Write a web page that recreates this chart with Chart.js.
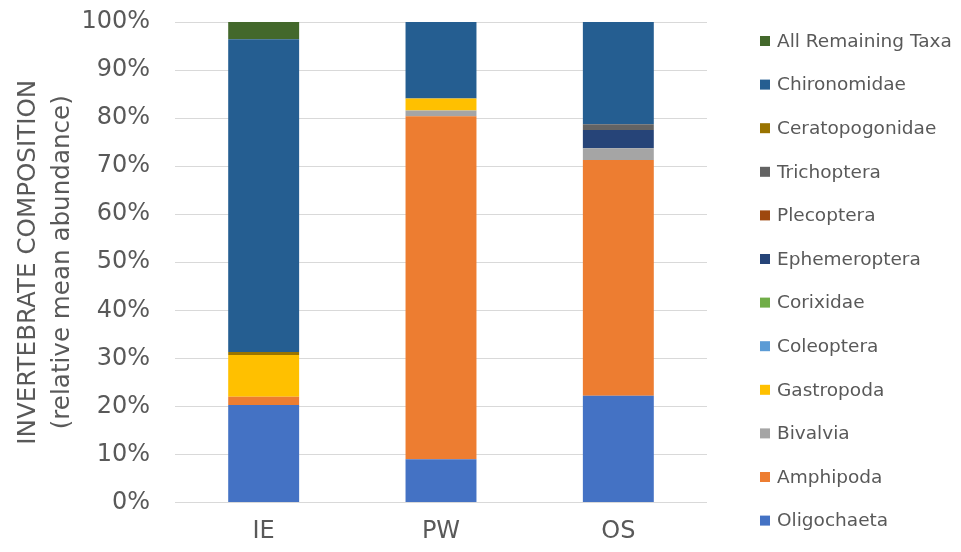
<!DOCTYPE html>
<html>
<head>
<meta charset="utf-8">
<title>Invertebrate composition</title>
<script src="https://cdn.jsdelivr.net/npm/chart.js@4/dist/chart.umd.min.js"></script>
<style>
  html, body { margin: 0; padding: 0; background: #ffffff; }
  #wrap { width: 961px; height: 552px; }
</style>
</head>
<body>
<div id="wrap"><canvas id="chart" width="961" height="552"></canvas></div>
<script>
// Sites
const categories = ['IE', 'PW', 'OS'];

// Relative mean abundance (%) per taxon, one value per site
const oligochaeta     = [20.3,  9.0, 22.2];
const amphipoda       = [ 1.7, 71.4, 49.1];
const bivalvia        = [ 0.0,  1.2,  2.4];
const gastropoda      = [ 8.7,  2.5,  0.0];
const coleoptera      = [ 0.0,  0.0,  0.0];
const corixidae       = [ 0.0,  0.0,  0.0];
const ephemeroptera   = [ 0.0,  0.0,  3.8];
const plecoptera      = [ 0.0,  0.0,  0.0];
const trichoptera     = [ 0.0,  0.0,  1.2];
const ceratopogonidae = [ 0.6,  0.0,  0.0];
const chironomidae    = [65.1, 15.9, 21.3];
const remainingTaxa   = [ 3.6,  0.0,  0.0];

// Axis ticks
const yTicks = [0, 10, 20, 30, 40, 50, 60, 70, 80, 90, 100];

const TEXT = '#595959';
const FONT = "'DejaVu Sans', Verdana, sans-serif";

const series = [
  ['Oligochaeta',        oligochaeta,     '#4472C4'],
  ['Amphipoda',          amphipoda,       '#ED7D31'],
  ['Bivalvia',           bivalvia,        '#A5A5A5'],
  ['Gastropoda',         gastropoda,      '#FFC000'],
  ['Coleoptera',         coleoptera,      '#5B9BD5'],
  ['Corixidae',          corixidae,       '#70AD47'],
  ['Ephemeroptera',      ephemeroptera,   '#264478'],
  ['Plecoptera',         plecoptera,      '#9E480E'],
  ['Trichoptera',        trichoptera,     '#636363'],
  ['Ceratopogonidae',    ceratopogonidae, '#997300'],
  ['Chironomidae',       chironomidae,    '#255E91'],
  ['All Remaining Taxa', remainingTaxa,   '#43682B']
];

const datasets = series.map(([label, data, color]) => ({
  label,
  data,
  backgroundColor: color,
  borderWidth: 0,
  barPercentage: 0.4,
  categoryPercentage: 1.0
}));

// Vertical legend on the right, top entry = last stacked series
const sideLegend = {
  id: 'sideLegend',
  afterDraw(chart, args, opts) {
    const ctx = chart.ctx;
    const items = chart.data.datasets.slice().reverse();
    ctx.save();
    ctx.font = opts.fontSize + 'px ' + FONT;
    ctx.textBaseline = 'middle';
    ctx.textAlign = 'left';
    items.forEach((ds, i) => {
      const cy = opts.top + i * opts.step;
      ctx.fillStyle = ds.backgroundColor;
      ctx.fillRect(opts.x, cy - opts.box / 2, opts.box, opts.box);
      ctx.fillStyle = TEXT;
      ctx.fillText(ds.label, opts.x + opts.box + opts.gap, cy + 1);
    });
    ctx.restore();
  }
};

new Chart(document.getElementById('chart'), {
  type: 'bar',
  data: { labels: categories, datasets },
  plugins: [sideLegend],
  options: {
    responsive: false,
    animation: false,
    devicePixelRatio: 1,
    layout: { padding: { top: 22, right: 254, bottom: 0, left: 0 } },
    plugins: {
      legend: { display: false },
      tooltip: { enabled: false },
      sideLegend: { x: 760, top: 41, step: 43.6, box: 10, gap: 7, fontSize: 18.5 }
    },
    scales: {
      x: {
        stacked: true,
        grid: { display: false, drawTicks: false },
        border: { display: false },
        ticks: { color: TEXT, font: { family: FONT, size: 24 }, padding: 15 },
        afterFit(scale) { scale.height = 49.5; }
      },
      y: {
        stacked: true,
        min: 0,
        max: 100,
        afterBuildTicks(scale) { scale.ticks = yTicks.map(v => ({ value: v })); },
        ticks: {
          color: TEXT,
          font: { family: FONT, size: 24 },
          padding: 3,
          callback: v => v + '%'
        },
        grid: {
          color: '#D9D9D9',
          lineWidth: 1,
          drawTicks: true,
          tickLength: 22,
          tickColor: 'rgba(0,0,0,0)'
        },
        border: { display: false },
        title: {
          display: true,
          text: ['INVERTEBRATE COMPOSITION', '(relative mean abundance)'],
          color: TEXT,
          font: { family: FONT, size: 24.6, lineHeight: 1.38 },
          padding: { top: 12, bottom: 0 }
        },
        afterFit(scale) { scale.width = 175; }
      }
    }
  }
});
</script>
</body>
</html>
